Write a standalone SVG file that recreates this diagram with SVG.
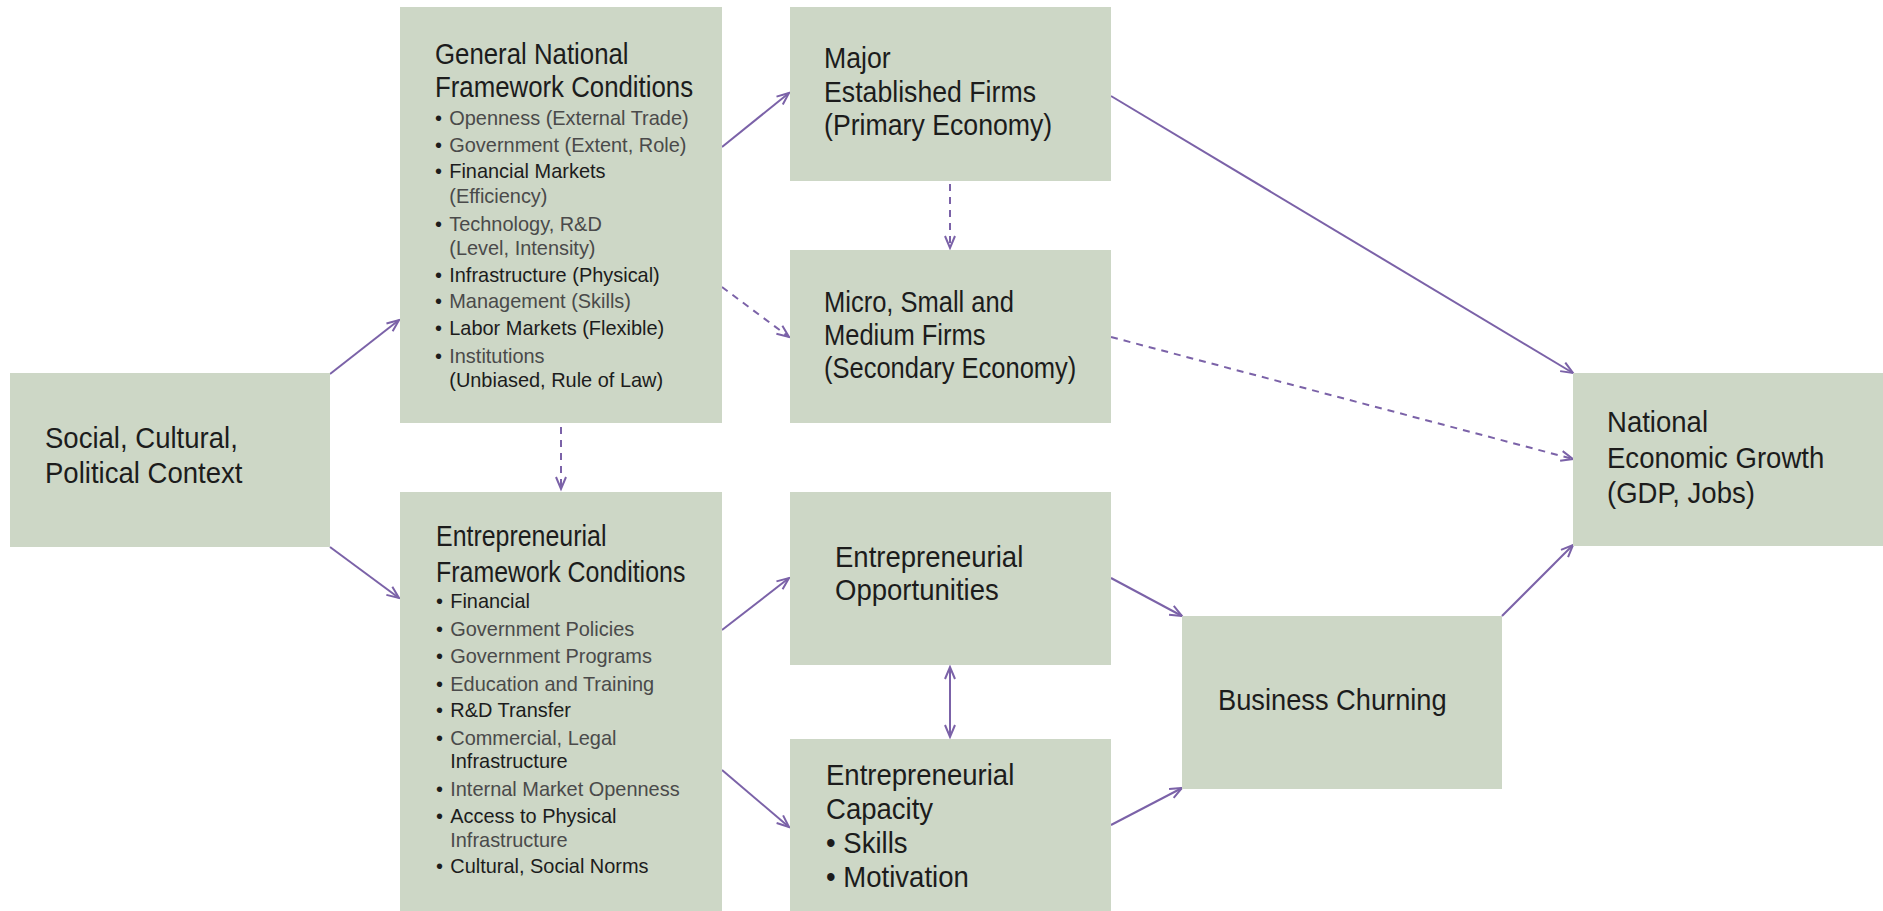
<svg xmlns="http://www.w3.org/2000/svg" width="1883" height="911" viewBox="0 0 1883 911">
<style>
.box{fill:#cdd7c6}
.h{font-family:"Liberation Sans",Arial,sans-serif;font-size:29px;fill:#1c1c1c}
.b{font-family:"Liberation Sans",Arial,sans-serif;font-size:21px;fill:#1c1c1c}
.g{fill:#4a4a4a}
.c{fill:none;stroke:#7b62a8;stroke-width:2}
.d{stroke-dasharray:7 6}
</style>
<defs>
<marker id="ah" markerUnits="userSpaceOnUse" markerWidth="16" markerHeight="14" refX="13" refY="6" orient="auto-start-reverse">
<path d="M1,1 L13,6 L1,11" fill="none" stroke="#7b62a8" stroke-width="2"/>
</marker>
</defs>
<rect width="1883" height="911" fill="#ffffff"/>

<g id="connectors">
<line class="c" x1="330" y1="374" x2="399" y2="320" marker-end="url(#ah)"/>
<line class="c" x1="330" y1="547" x2="399" y2="598" marker-end="url(#ah)"/>
<line class="c" x1="722" y1="147" x2="789" y2="93" marker-end="url(#ah)"/>
<line class="c d" x1="722" y1="287" x2="789" y2="337" marker-end="url(#ah)"/>
<line class="c d" x1="561" y1="427" x2="561" y2="489" marker-end="url(#ah)"/>
<line class="c d" x1="950" y1="184" x2="950" y2="248" marker-end="url(#ah)"/>
<line class="c" x1="722" y1="630" x2="789" y2="578" marker-end="url(#ah)"/>
<line class="c" x1="722" y1="770" x2="789" y2="827" marker-end="url(#ah)"/>
<line class="c" x1="950" y1="667" x2="950" y2="737" marker-start="url(#ah)" marker-end="url(#ah)"/>
<line class="c" x1="1111" y1="578" x2="1182" y2="616" marker-end="url(#ah)"/>
<line class="c" x1="1111" y1="825" x2="1182" y2="788" marker-end="url(#ah)"/>
<line class="c" x1="1111" y1="96" x2="1573" y2="373" marker-end="url(#ah)"/>
<line class="c d" x1="1111" y1="337" x2="1573" y2="459" marker-end="url(#ah)"/>
<line class="c" x1="1502" y1="616" x2="1573" y2="545" marker-end="url(#ah)"/>
</g>

<g id="social">
<rect class="box" x="10" y="373" width="320" height="174"/>
<text class="h" transform="translate(45 0) scale(0.95 1)"><tspan x="0" y="448">Social, Cultural,</tspan><tspan x="0" y="483">Political Context</tspan></text>
</g>

<g id="general">
<rect class="box" x="400" y="7" width="322" height="416"/>
<text class="h" transform="translate(435 0) scale(0.89 1)"><tspan x="0" y="64">General National</tspan><tspan x="0" y="97">Framework Conditions</tspan></text>
<text class="b" transform="translate(435 0) scale(0.95 1)">
<tspan x="0" y="125">•</tspan><tspan class="g" x="15" y="125">Openness (External Trade)</tspan>
<tspan x="0" y="152">•</tspan><tspan class="g" x="15" y="152">Government (Extent, Role)</tspan>
<tspan x="0" y="178">•</tspan><tspan x="15" y="178">Financial Markets</tspan>
<tspan class="g" x="15" y="203">(Efficiency)</tspan>
<tspan x="0" y="231">•</tspan><tspan class="g" x="15" y="231">Technology, R&amp;D</tspan>
<tspan class="g" x="15" y="255">(Level, Intensity)</tspan>
<tspan x="0" y="282">•</tspan><tspan x="15" y="282">Infrastructure (Physical)</tspan>
<tspan x="0" y="308">•</tspan><tspan class="g" x="15" y="308">Management (Skills)</tspan>
<tspan x="0" y="335">•</tspan><tspan x="15" y="335">Labor Markets (Flexible)</tspan>
<tspan x="0" y="363">•</tspan><tspan class="g" x="15" y="363">Institutions</tspan>
<tspan x="15" y="387">(Unbiased, Rule of Law)</tspan>
</text>
</g>

<g id="efc">
<rect class="box" x="400" y="492" width="322" height="419"/>
<text class="h" transform="translate(436 0) scale(0.86 1)"><tspan x="0" y="546">Entrepreneurial</tspan><tspan x="0" y="582">Framework Conditions</tspan></text>
<text class="b" transform="translate(436 0) scale(0.95 1)">
<tspan x="0" y="608">•</tspan><tspan x="15" y="608">Financial</tspan>
<tspan x="0" y="636">•</tspan><tspan class="g" x="15" y="636">Government Policies</tspan>
<tspan x="0" y="663">•</tspan><tspan class="g" x="15" y="663">Government Programs</tspan>
<tspan x="0" y="691">•</tspan><tspan class="g" x="15" y="691">Education and Training</tspan>
<tspan x="0" y="717">•</tspan><tspan x="15" y="717">R&amp;D Transfer</tspan>
<tspan x="0" y="745">•</tspan><tspan class="g" x="15" y="745">Commercial, Legal</tspan>
<tspan x="15" y="768">Infrastructure</tspan>
<tspan x="0" y="796">•</tspan><tspan class="g" x="15" y="796">Internal Market Openness</tspan>
<tspan x="0" y="823">•</tspan><tspan x="15" y="823">Access to Physical</tspan>
<tspan class="g" x="15" y="847">Infrastructure</tspan>
<tspan x="0" y="873">•</tspan><tspan x="15" y="873">Cultural, Social Norms</tspan>
</text>
</g>

<g id="major">
<rect class="box" x="790" y="7" width="321" height="174"/>
<text class="h" transform="translate(824 0) scale(0.92 1)"><tspan x="0" y="68">Major</tspan><tspan x="0" y="102">Established Firms</tspan><tspan x="0" y="135">(Primary Economy)</tspan></text>
</g>

<g id="micro">
<rect class="box" x="790" y="250" width="321" height="173"/>
<text class="h" transform="translate(824 0) scale(0.88 1)"><tspan x="0" y="312">Micro, Small and</tspan><tspan x="0" y="345">Medium Firms</tspan><tspan x="0" y="378">(Secondary Economy)</tspan></text>
</g>

<g id="opportunities">
<rect class="box" x="790" y="492" width="321" height="173"/>
<text class="h" transform="translate(835 0) scale(0.95 1)"><tspan x="0" y="567">Entrepreneurial</tspan><tspan x="0" y="600">Opportunities</tspan></text>
</g>

<g id="capacity">
<rect class="box" x="790" y="739" width="321" height="172"/>
<text class="h" transform="translate(826 0) scale(0.95 1)"><tspan x="0" y="785">Entrepreneurial</tspan><tspan x="0" y="819">Capacity</tspan><tspan x="0" y="853">• Skills</tspan><tspan x="0" y="887">• Motivation</tspan></text>
</g>

<g id="churning">
<rect class="box" x="1182" y="616" width="320" height="173"/>
<text class="h" transform="translate(1218 0) scale(0.94 1)"><tspan x="0" y="710">Business Churning</tspan></text>
</g>

<g id="national">
<rect class="box" x="1573" y="373" width="310" height="173"/>
<text class="h" transform="translate(1607 0) scale(0.95 1)"><tspan x="0" y="432">National</tspan><tspan x="0" y="468">Economic Growth</tspan><tspan x="0" y="503">(GDP, Jobs)</tspan></text>
</g>
</svg>
